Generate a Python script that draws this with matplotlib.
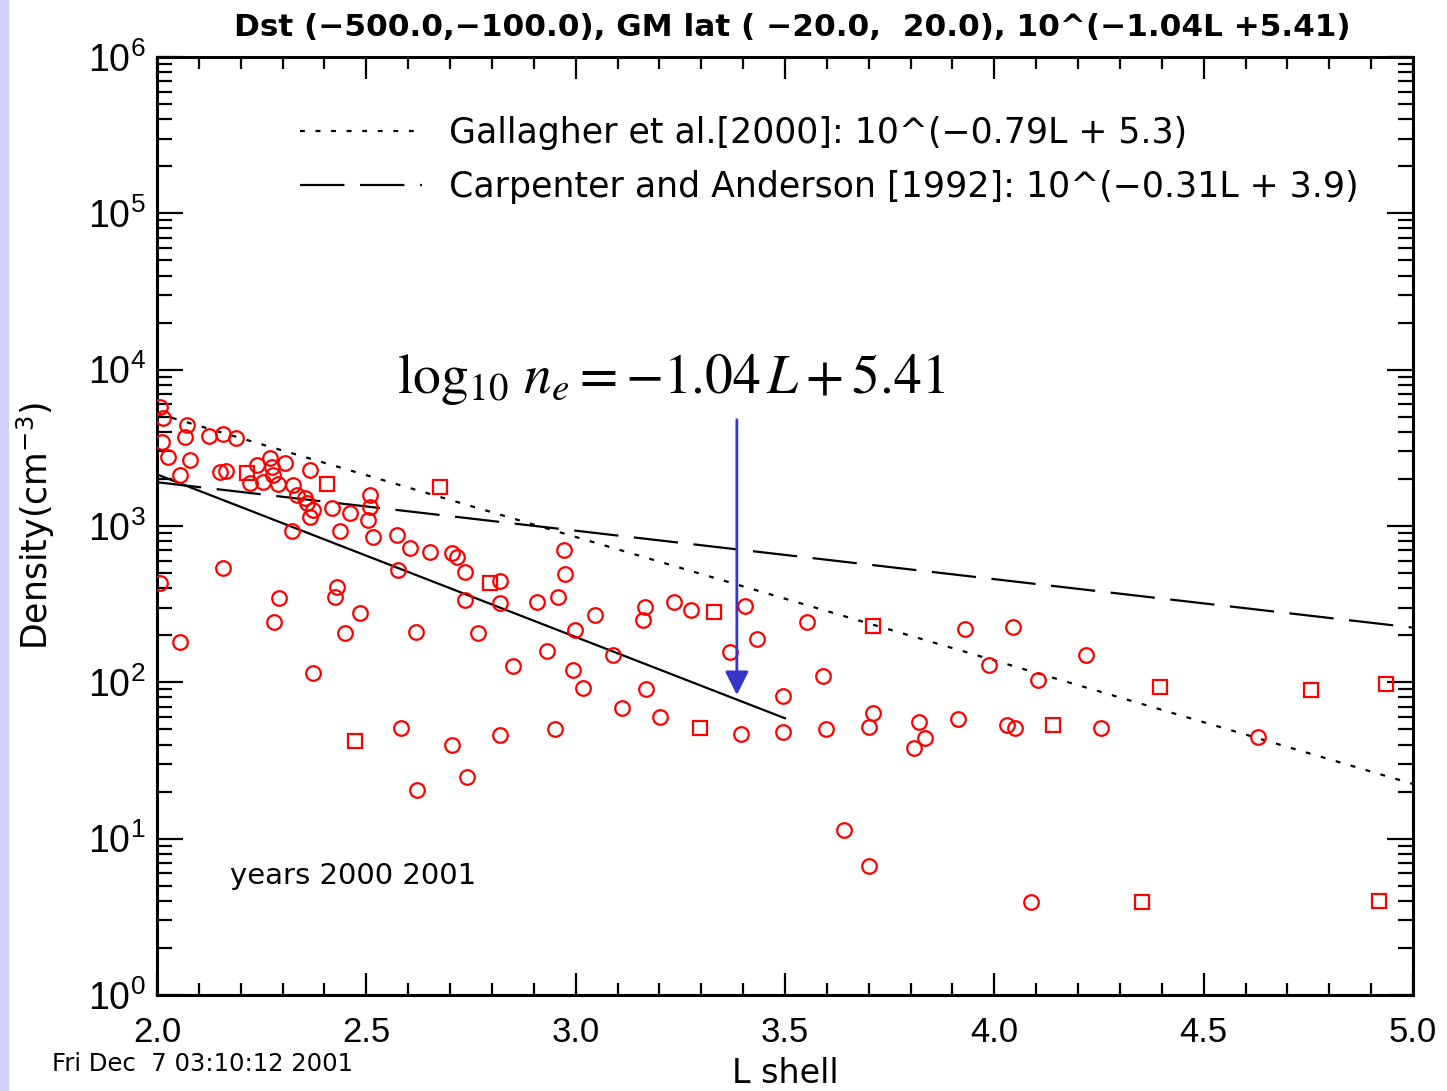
import matplotlib
matplotlib.use("Agg")
import matplotlib.pyplot as plt
import numpy as np
from matplotlib.lines import Line2D
from matplotlib.ticker import MultipleLocator, LogLocator, FuncFormatter, NullFormatter
from matplotlib.patches import Rectangle

plt.rcParams['font.family'] = ['Liberation Sans', 'DejaVu Sans']
plt.rcParams['mathtext.fontset'] = 'custom'
plt.rcParams['mathtext.rm'] = 'Liberation Sans'
plt.rcParams['mathtext.it'] = 'Liberation Sans:italic'
plt.rcParams['mathtext.bf'] = 'Liberation Sans:bold'

# ---------------- data ----------------
# observed densities, circle-symbol points
L_circ = [2.007, 2.014, 2.012, 2.026, 2.072, 2.067, 2.079, 2.055, 2.124, 2.158,
          2.189, 2.150, 2.165, 2.239, 2.270, 2.306, 2.222, 2.253, 2.277, 2.275,
          2.289, 2.365, 2.325, 2.334, 2.353, 2.358, 2.373, 2.365, 2.418, 2.461,
          2.509, 2.509, 2.504, 2.516, 2.437, 2.322, 2.573, 2.604, 2.652, 2.705,
          2.717, 2.736, 2.576, 2.819, 2.736, 2.819, 2.908, 2.958, 2.972, 2.974,
          3.046, 3.166, 3.161, 3.235, 3.275, 3.404, 3.552, 3.433, 3.369, 2.998,
          3.089, 2.931, 2.767, 2.994, 3.017, 3.168, 3.111, 3.201, 3.591, 3.495,
          2.850, 3.395, 3.495, 3.598, 3.710, 3.700, 3.820, 3.834, 3.808, 3.913,
          3.641, 3.700, 2.950, 2.819, 2.705, 2.740, 2.621, 2.583, 2.373, 2.055,
          2.158, 2.007, 2.291, 2.430, 2.425, 2.485, 2.279, 2.449, 2.619, 3.930,
          4.044, 3.987, 4.104, 4.219, 4.030, 4.049, 4.255, 4.630, 4.087]
n_circ = [5780, 4920, 3450, 2770, 4430, 3720, 2650, 2120, 3770, 3880,
          3660, 2220, 2250, 2460, 2730, 2530, 1890, 1920, 2120, 2390,
          1860, 2290, 1830, 1580, 1510, 1410, 1270, 1140, 1310, 1210,
          1580, 1320, 1090, 851, 930, 930, 877, 723, 681, 672,
          634, 508, 524, 445, 337, 322, 327, 352, 703, 494,
          270, 304, 251, 327, 290, 308, 243, 190, 156, 216,
          150, 159, 207, 120, 92, 91, 69, 60, 110, 82,
          127, 47, 48, 50, 64, 52, 56, 44, 38, 58,
          11.4, 6.7, 50, 46, 40, 24.8, 20.5, 51, 115, 181,
          540, 432, 347, 408, 352, 278, 243, 207, 210, 220,
          226, 129, 104, 150, 53, 51, 51, 45, 3.94]

# observed densities, square-symbol points
L_sq = [2.215, 2.406, 2.676, 2.795, 3.330, 3.710, 3.297, 2.473, 4.395, 4.756,
        4.935, 4.140, 4.353, 4.919]
n_sq = [2190, 1860, 1780, 432, 282, 230, 51, 42, 93, 89,
        98, 53, 3.94, 4.0]

# model lines: log10(n) = a*L + b
gallagher = (-0.79, 5.3)
carpenter = (-0.31, 3.9)
fit = (-1.04, 5.41)
L_model = [2.0, 5.0]
L_fit = [2.0, 3.5]

# arrow (L, density) tail and head
arrow_L = 3.385
arrow_tail_n = 4780
arrow_head_n = 83

title_text = "Dst (\u2212500.0,\u2212100.0), GM lat ( \u221220.0,  20.0), 10^(\u22121.04L +5.41)"
leg_labels = ["Gallagher et al.[2000]: 10^(\u22120.79L + 5.3)",
              "Carpenter and Anderson [1992]: 10^(\u22120.31L + 3.9)"]

# ---------------- figure ----------------
W, H = 1447, 1091
fig = plt.figure(figsize=(W / 100, H / 100), dpi=100)
fig.patch.set_facecolor('white')
fig.patches.append(Rectangle((0, 0), 8 / W, 1, transform=fig.transFigure,
                             color='#d2d2f8', zorder=0))

ax = fig.add_axes([157 / W, 1 - 995 / H, (1413 - 157) / W, (995 - 57) / H])
ax.set_yscale('log')
ax.set_xlim(2.0, 5.0)
ax.set_ylim(1, 1e6)

def model(coef, Ls):
    Ls = np.asarray(Ls, dtype=float)
    return 10 ** (coef[0] * Ls + coef[1])

Lm = np.linspace(L_model[0], L_model[1], 200)
Lf = np.linspace(L_fit[0], L_fit[1], 200)
dot_style = (0, (2.2, 4.8))
dash_style = (0, (20, 7))
ax.plot(Lm, model(gallagher, Lm), color='black', lw=1.6, linestyle=dot_style, zorder=3)
ax.plot(Lm, model(carpenter, Lm), color='black', lw=1.6, linestyle=dash_style, zorder=3)
ax.plot(Lf, model(fit, Lf), color='black', lw=1.6, zorder=3)

ax.plot(L_circ, n_circ, linestyle='none', marker='o', ms=10.5, mfc='none',
        mec='#ff0000', mew=1.6, zorder=4)
ax.plot(L_sq, n_sq, linestyle='none', marker='s', ms=9.5, mfc='none',
        mec='#ff0000', mew=1.6, zorder=4)

ax.annotate('', xy=(arrow_L, arrow_head_n), xytext=(arrow_L, arrow_tail_n),
            arrowprops=dict(arrowstyle='-|>', color='#3535c8', lw=2,
                            mutation_scale=36, shrinkA=0, shrinkB=0), zorder=5)

# ticks
ax.xaxis.set_major_locator(MultipleLocator(0.5))
ax.xaxis.set_minor_locator(MultipleLocator(0.1))
ax.xaxis.set_major_formatter(FuncFormatter(lambda v, p: f"{v:.1f}"))
ax.yaxis.set_major_locator(LogLocator(base=10, numticks=10))
ax.yaxis.set_minor_locator(LogLocator(base=10, subs=np.arange(2, 10), numticks=20))
ax.yaxis.set_minor_formatter(NullFormatter())
ax.yaxis.set_major_formatter(FuncFormatter(lambda v, p: r"$\mathregular{10^{%d}}$" % round(np.log10(v))))

ax.tick_params(axis='x', which='major', direction='in', top=True, length=16, width=1.6,
               labelsize=25, pad=15)
ax.tick_params(axis='x', which='minor', direction='in', top=True, length=8.5, width=1.6)
ax.tick_params(axis='y', which='major', direction='in', right=True, length=19, width=1.6,
               labelsize=27, pad=8)
ax.tick_params(axis='y', which='minor', direction='in', right=True, length=11, width=1.6)
for s in ax.spines.values():
    s.set_linewidth(2.2)

dv = ['DejaVu Sans']

# labels
fig.text(792 / W, 1 - 28 / H, title_text, ha='center', va='center',
         fontsize=22.4, fontweight='bold', family=dv)
ax.set_xlabel('L shell', fontsize=24, labelpad=6, family=dv)
ax.set_ylabel(r'Density(cm$^{\mathregular{-3}}$)', fontsize=25, family=dv)
ax.yaxis.set_label_coords(-0.08, 0.5)

handles = [Line2D([], [], color='black', lw=1.6, linestyle=dot_style),
           Line2D([], [], color='black', lw=1.6, linestyle=dash_style)]
ax.legend(handles, leg_labels, loc='upper left', bbox_to_anchor=(0.114, 0.937),
          frameon=False, prop={'family': dv, 'size': 25}, handlelength=3.5,
          handletextpad=0.78, labelspacing=0.58, borderpad=0, borderaxespad=0)

ax.text(0.409, 0.656, r'$\log_{10}\, n_e = -1.04\,L + 5.41$', transform=ax.transAxes,
        ha='center', va='center', fontsize=40, math_fontfamily='stix')
ax.text(0.058, 0.127, 'years 2000 2001', transform=ax.transAxes, ha='left',
        va='center', fontsize=21, family=dv)
fig.text(52 / W, 1 - 1064 / H, 'Fri Dec  7 03:10:12 2001', ha='left', va='center',
         fontsize=17.5, family=dv)

fig.savefig('out.png', dpi=100)
